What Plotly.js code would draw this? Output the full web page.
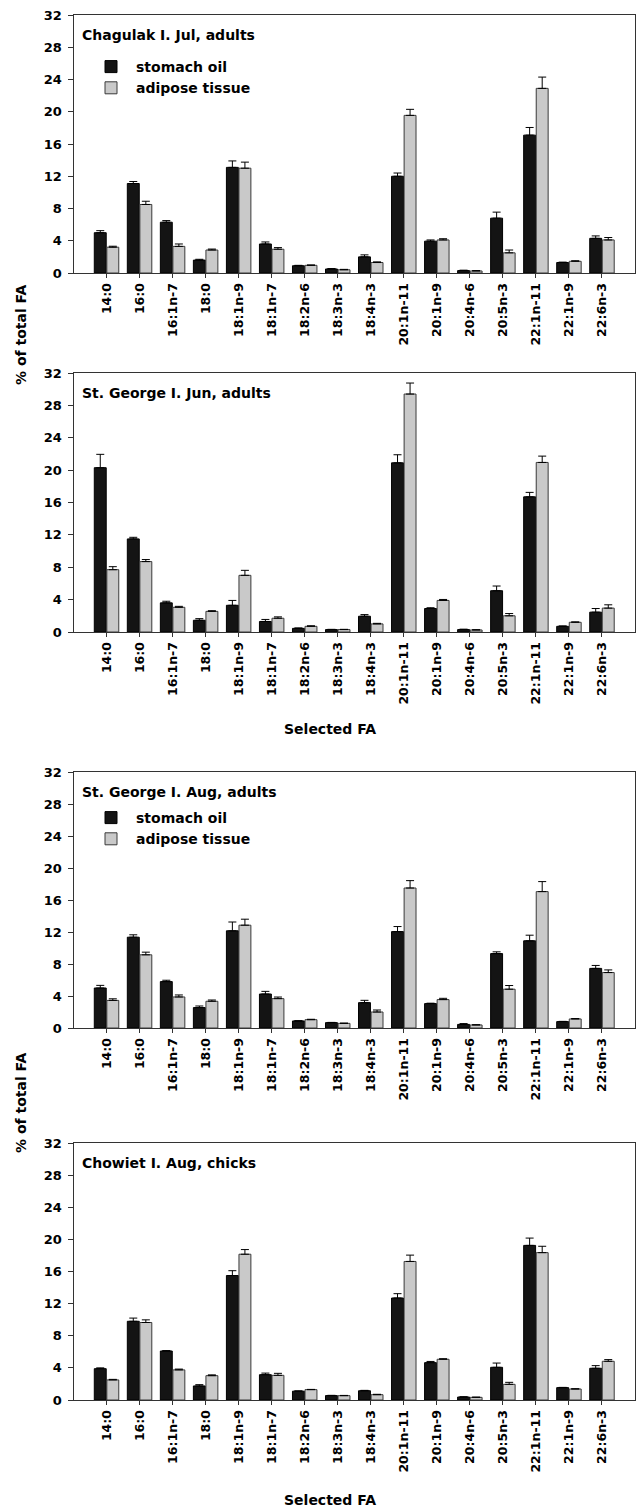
<!DOCTYPE html>
<html>
<head>
<meta charset="utf-8">
<script src="https://cdn.plot.ly/plotly-3.0.1.min.js"></script>
<style>html,body{margin:0;padding:0;background:#fff;}#chart{width:637px;height:1509px;}</style>
</head>
<body>
<div id="chart"></div>
<script>
var categories = ['14:0','16:0','16:1n-7','18:0','18:1n-9','18:1n-7','18:2n-6','18:3n-3','18:4n-3','20:1n-11','20:1n-9','20:4n-6','20:5n-3','22:1n-11','22:1n-9','22:6n-3'];
var seriesNames = ['stomach oil', 'adipose tissue'];
var panelTitles = ['Chagulak I. Jul, adults', 'St. George I. Jun, adults', 'St. George I. Aug, adults', 'Chowiet I. Aug, chicks'];
var yTicks = [0, 4, 8, 12, 16, 20, 24, 28, 32];

// Panel 1: Chagulak I. Jul, adults
var chagStomach     = [5.0, 11.1, 6.3, 1.6, 13.1, 3.6, 0.9, 0.5, 2.0, 12.0, 3.95, 0.3, 6.8, 17.1, 1.3, 4.3];
var chagStomachErr  = [0.25, 0.25, 0.2, 0.1, 0.8, 0.25, 0.05, 0.05, 0.25, 0.4, 0.15, 0.05, 0.75, 0.95, 0.05, 0.3];
var chagAdipose     = [3.2, 8.5, 3.3, 2.85, 13.0, 2.95, 0.95, 0.4, 1.3, 19.55, 4.1, 0.25, 2.5, 22.9, 1.45, 4.1];
var chagAdiposeErr  = [0.12, 0.4, 0.3, 0.12, 0.75, 0.2, 0.05, 0.05, 0.08, 0.75, 0.15, 0.05, 0.35, 1.4, 0.07, 0.3];

// Panel 2: St. George I. Jun, adults
var sgJunStomach    = [20.3, 11.5, 3.6, 1.45, 3.3, 1.3, 0.45, 0.3, 1.95, 20.9, 2.9, 0.3, 5.1, 16.7, 0.7, 2.45];
var sgJunStomachErr = [1.65, 0.2, 0.2, 0.2, 0.6, 0.25, 0.05, 0.03, 0.2, 1.0, 0.1, 0.05, 0.58, 0.55, 0.05, 0.45];
var sgJunAdipose    = [7.7, 8.7, 3.05, 2.55, 7.0, 1.7, 0.7, 0.3, 1.0, 29.4, 3.9, 0.25, 2.0, 20.95, 1.2, 2.95];
var sgJunAdiposeErr = [0.37, 0.25, 0.12, 0.08, 0.62, 0.17, 0.07, 0.03, 0.07, 1.36, 0.12, 0.03, 0.28, 0.78, 0.05, 0.41];

// Panel 3: St. George I. Aug, adults
var sgAugStomach    = [5.0, 11.35, 5.8, 2.55, 12.15, 4.25, 0.88, 0.67, 3.17, 12.05, 3.05, 0.45, 9.3, 10.9, 0.8, 7.45];
var sgAugStomachErr = [0.33, 0.3, 0.17, 0.2, 1.1, 0.33, 0.03, 0.03, 0.29, 0.63, 0.05, 0.1, 0.22, 0.7, 0.03, 0.37];
var sgAugAdipose    = [3.45, 9.15, 3.88, 3.34, 12.85, 3.67, 1.04, 0.58, 2.0, 17.5, 3.55, 0.38, 4.85, 17.05, 1.13, 6.93];
var sgAugAdiposeErr = [0.2, 0.33, 0.25, 0.16, 0.75, 0.2, 0.05, 0.03, 0.25, 0.92, 0.16, 0.03, 0.46, 1.25, 0.05, 0.33];

// Panel 4: Chowiet I. Aug, chicks
var chowStomach     = [3.9, 9.8, 6.1, 1.75, 15.5, 3.15, 1.1, 0.55, 1.15, 12.7, 4.65, 0.37, 4.07, 19.25, 1.54, 3.95];
var chowStomachErr  = [0.1, 0.4, 0.05, 0.16, 0.6, 0.2, 0.03, 0.03, 0.05, 0.54, 0.15, 0.03, 0.53, 0.91, 0.03, 0.33];
var chowAdipose     = [2.5, 9.65, 3.75, 3.03, 18.15, 3.07, 1.29, 0.54, 0.66, 17.25, 5.07, 0.33, 1.95, 18.35, 1.37, 4.82];
var chowAdiposeErr  = [0.07, 0.33, 0.1, 0.1, 0.58, 0.25, 0.03, 0.03, 0.05, 0.79, 0.07, 0.03, 0.25, 0.79, 0.03, 0.21];

var W = 637, H = 1509;
var FONT = 'DejaVu Sans, Liberation Sans, Arial, sans-serif';

var panels = [
  {s: chagStomach, se: chagStomachErr, a: chagAdipose, ae: chagAdiposeErr, top: 15, bot: 273, legend: 'legend'},
  {s: sgJunStomach, se: sgJunStomachErr, a: sgJunAdipose, ae: sgJunAdiposeErr, top: 373, bot: 632, legend: null},
  {s: sgAugStomach, se: sgAugStomachErr, a: sgAugAdipose, ae: sgAugAdiposeErr, top: 772, bot: 1028, legend: 'legend2'},
  {s: chowStomach, se: chowStomachErr, a: chowAdipose, ae: chowAdiposeErr, top: 1143, bot: 1400, legend: null}
];

function zeros(n){ var z=[]; for (var i=0;i<n;i++) z.push(0); return z; }
function py(px){ return 1 - px / H; }

var data = [];
var layout = {
  width: W, height: H,
  margin: {l: 0, r: 0, t: 0, b: 0},
  paper_bgcolor: '#fff', plot_bgcolor: '#fff',
  font: {family: FONT, size: 13, color: '#000', weight: 'bold'},
  barmode: 'group', bargap: 0.24, bargroupgap: 0.05,
  annotations: [],
  showlegend: true
};

panels.forEach(function(p, i){
  var k = i === 0 ? '' : String(i + 1);
  var xa = 'x' + k, ya = 'y' + k;
  var colors = ['#141414', '#c9c9c9'];
  var lines = ['#000', '#3a3a3a'];
  var vals = [p.s, p.a], errs = [p.se, p.ae];
  for (var j = 0; j < 2; j++) {
    var tr = {
      type: 'bar', x: categories, y: vals[j], name: seriesNames[j],
      xaxis: xa, yaxis: ya,
      marker: {color: colors[j], line: {color: lines[j], width: 1}},
      error_y: {type: 'data', symmetric: false, array: errs[j], arrayminus: zeros(categories.length), color: '#000', thickness: 1, width: 4},
      showlegend: !!p.legend,
      hoverinfo: 'x+y+name'
    };
    if (p.legend) tr.legend = p.legend;
    data.push(tr);
  }
  layout['xaxis' + k] = {
    domain: [73.5 / W, 635 / W], anchor: ya,
    type: 'category', categoryorder: 'array', categoryarray: categories,
    range: [-1, 16],
    showline: true, linecolor: '#333', linewidth: 1, mirror: true,
    ticks: 'outside', ticklen: 4, tickwidth: 1, tickcolor: '#333',
    tickangle: -90, tickfont: {family: FONT, size: 12.5, color: '#000', weight: 'bold'},
    showgrid: false, zeroline: false, fixedrange: true
  };
  layout['yaxis' + k] = {
    domain: [py(p.bot), py(p.top)], anchor: xa,
    range: [0, 32], tickvals: yTicks, ticktext: yTicks.map(String),
    showline: true, linecolor: '#333', linewidth: 1, mirror: true,
    ticks: 'outside', ticklen: 5, tickwidth: 1, tickcolor: '#333',
    tickfont: {family: FONT, size: 13, color: '#000', weight: 'bold'},
    ticklabelstandoff: 3,
    showgrid: false, zeroline: false, fixedrange: true
  };
  layout.annotations.push({
    xref: 'paper', yref: 'paper', x: 80 / W, y: py(p.top + 20),
    xanchor: 'left', yanchor: 'middle', showarrow: false,
    text: panelTitles[i], font: {family: FONT, size: 14, color: '#000', weight: 'bold'}
  });
});

var legendCommon = {
  xanchor: 'left', yanchor: 'top', bgcolor: 'rgba(0,0,0,0)', borderwidth: 0,
  font: {family: FONT, size: 14, color: '#000', weight: 'bold'},
  itemwidth: 40, tracegroupgap: 0, orientation: 'v', traceorder: 'normal'
};
layout.legend = Object.assign({}, legendCommon, {x: 86 / W, y: py(51)});
layout.legend2 = Object.assign({}, legendCommon, {x: 86 / W, y: py(802)});

// axis titles
[335, 1103].forEach(function(yc){
  layout.annotations.push({
    xref: 'paper', yref: 'paper', x: 21 / W, y: py(yc), xanchor: 'center', yanchor: 'middle',
    textangle: -90, showarrow: false, text: '% of total FA',
    font: {family: FONT, size: 14, color: '#000', weight: 'bold'}
  });
});
[729, 1500].forEach(function(yc){
  layout.annotations.push({
    xref: 'paper', yref: 'paper', x: 330 / W, y: py(yc), xanchor: 'center', yanchor: 'middle',
    showarrow: false, text: 'Selected FA',
    font: {family: FONT, size: 14, color: '#000', weight: 'bold'}
  });
});

Plotly.newPlot('chart', data, layout, {displayModeBar: false, staticPlot: true});
</script>
</body>
</html>
